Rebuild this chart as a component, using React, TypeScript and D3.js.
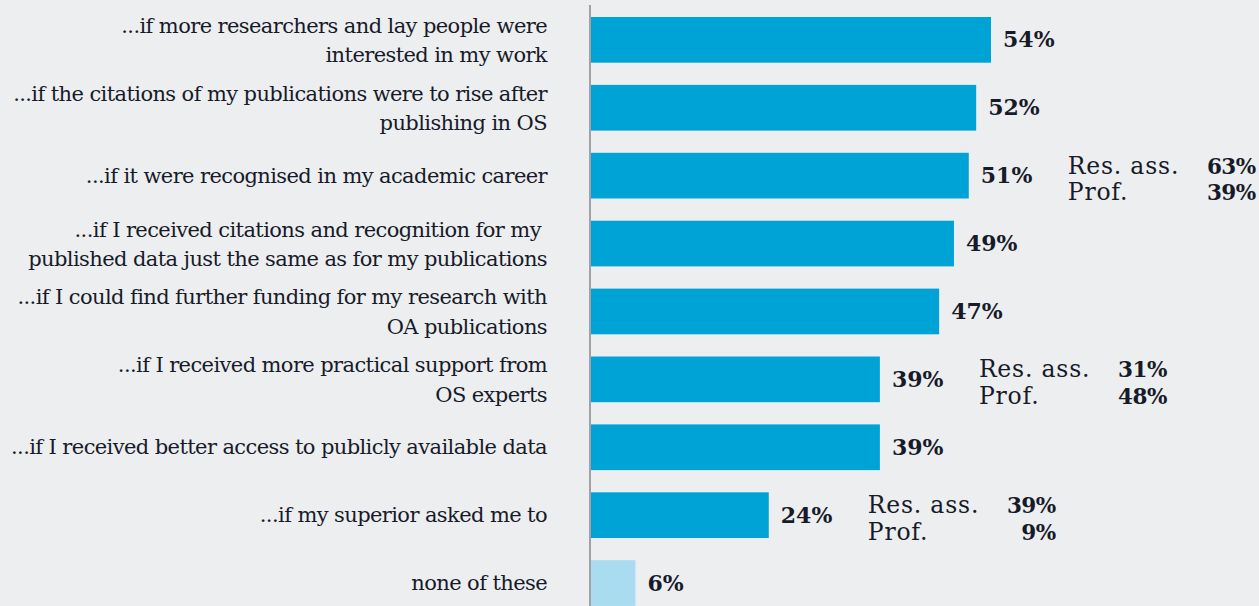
import React from "react";
import * as d3 from "d3";

const categories: string[][] = [
  ["...if more researchers and lay people were", "interested in my work"],
  ["...if the citations of my publications were to rise after", "publishing in OS"],
  ["...if it were recognised in my academic career"],
  ["...if I received citations and recognition for my ", "published data just the same as for my publications"],
  ["...if I could find further funding for my research with", "OA publications"],
  ["...if I received more practical support from", "OS experts"],
  ["...if I received better access to publicly available data"],
  ["...if my superior asked me to"],
  ["none of these"],
];
const values: number[] = [54, 52, 51, 49, 47, 39, 39, 24, 6];
const highlight: boolean[] = [true, true, true, true, true, true, true, true, false];
const subLabels: string[] = ["Res. ass.", "Prof."];
const resAss: (number | null)[] = [null, null, 63, null, null, 31, null, 39, null];
const prof: (number | null)[] = [null, null, 39, null, null, 48, null, 9, null];

const W = 1259;
const H = 606;
const BG = "#edeef0";
const BAR = "#00a3d6";
const BAR_LIGHT = "#a9dcf1";
const TEXT = "#171b29";
const SERIF = "'DejaVu Serif', serif";

export default function App() {
  const x = d3.scaleLinear().domain([0, 54]).range([591, 991]);
  const step = 67.9;
  const bh = 45.7;
  const y = d3
    .scaleBand<number>()
    .domain(d3.range(values.length))
    .range([17, 17 + step * values.length])
    .paddingInner(1 - bh / step)
    .paddingOuter(0)
    .align(0);

  return (
    <div style={{ position: "fixed", left: 0, top: 0, width: W, height: H, background: BG }}>
      <svg width={W} height={H} style={{ display: "block" }}>
        <rect x={0} y={0} width={W} height={H} fill={BG} />
        {values.map((v, i) => {
          const t = 17 + i * step;
          const c = t + bh / 2;
          const lines = categories[i];
          const end = x(v);
          const labelProps = {
            textAnchor: "end" as const,
            fontFamily: SERIF,
            fontSize: 21,
            letterSpacing: -0.6,
            fill: TEXT,
            style: { whiteSpace: "pre" as const },
          };
          return (
            <g key={i}>
              <rect x={x(0)} y={t} width={end - x(0)} height={bh} fill={highlight[i] ? BAR : BAR_LIGHT} />
              {lines.length === 1 ? (
                <text x={547} y={c + 7} {...labelProps}>
                  {lines[0]}
                </text>
              ) : (
                <text {...labelProps}>
                  <tspan x={547} y={c - 7}>{lines[0]}</tspan>
                  <tspan x={547} y={c + 22.5}>{lines[1]}</tspan>
                </text>
              )}
              <text x={end + 12} y={c + 7.5} fontFamily={SERIF} fontWeight="bold" fontSize={22} fill={TEXT}>
                {v}%
              </text>
              {resAss[i] !== null && (
                <g>
                  <text x={end + 99} y={c - 2} fontFamily={SERIF} fontSize={23.5} letterSpacing={0.8} fill={TEXT}>
                    {subLabels[0]}
                  </text>
                  <text x={end + 99} y={c + 24.5} fontFamily={SERIF} fontSize={23.5} letterSpacing={0.8} fill={TEXT}>
                    {subLabels[1]}
                  </text>
                  <text x={end + 287} y={c - 2} textAnchor="end" fontFamily={SERIF} fontWeight="bold" fontSize={21.5} letterSpacing={-0.5} fill={TEXT}>
                    {resAss[i]}%
                  </text>
                  <text x={end + 287} y={c + 24.5} textAnchor="end" fontFamily={SERIF} fontWeight="bold" fontSize={21.5} letterSpacing={-0.5} fill={TEXT}>
                    {prof[i]}%
                  </text>
                </g>
              )}
            </g>
          );
        })}
        <line x1={590} x2={590} y1={5} y2={H} stroke="#a0a2a8" strokeWidth={2} />
      </svg>
    </div>
  );
}
